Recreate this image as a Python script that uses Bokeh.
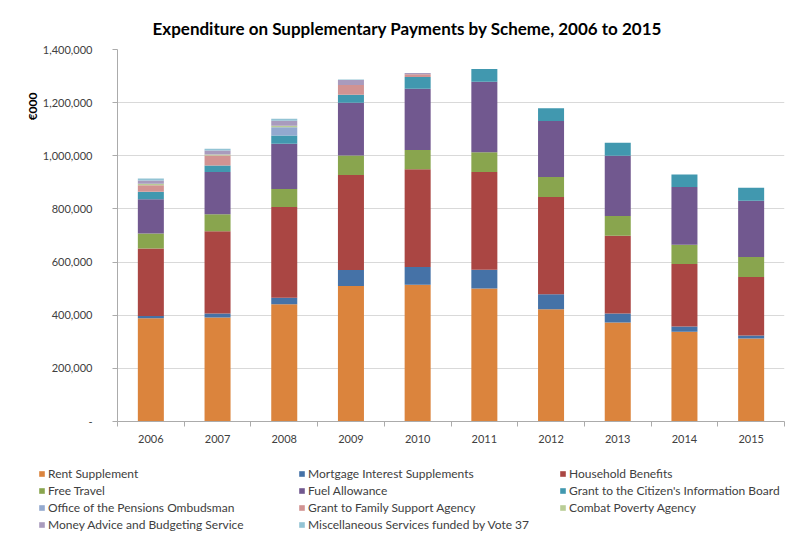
from bokeh.plotting import figure
from bokeh.layouts import column
from bokeh.models import (ColumnDataSource, Range1d, FixedTicker, CustomJSTickFormatter,
                          Legend, LegendItem, Title)
from bokeh.embed import file_html
from bokeh.resources import INLINE

# ---------------- data (EUR 000) ----------------
years = ["2006", "2007", "2008", "2009", "2010", "2011", "2012", "2013", "2014", "2015"]

rent_supplement = [389000, 391000, 441000, 510000, 515000, 501000, 422500, 372500, 337500, 312500]
mortgage_interest = [8000, 15000, 25000, 60000, 66000, 70000, 56500, 33500, 20000, 11250]
household_benefits = [254000, 310000, 341500, 357500, 368000, 367700, 366000, 292750, 235000, 220000]
free_travel = [56500, 64000, 67500, 73500, 73000, 75000, 75000, 75000, 72500, 75000]
fuel_allowance = [128500, 158700, 170000, 199000, 230500, 265000, 211000, 226250, 217500, 212500]
citizens_info = [27700, 25000, 31000, 30000, 44000, 47500, 47750, 48750, 47500, 48750]
pensions_ombudsman = [1000, 0, 31000, 0, 0, 0, 0, 0, 0, 0]
family_support = [24000, 37500, 0, 36000, 10000, 0, 0, 0, 0, 0]
combat_poverty = [6000, 4000, 6000, 0, 0, 0, 0, 0, 0, 0]
money_advice = [12500, 15000, 19000, 19000, 5000, 0, 0, 0, 0, 0]
misc_vote37 = [7500, 6000, 7500, 2000, 0, 0, 0, 0, 0, 0]

series_names = [
    "Rent Supplement", "Mortgage Interest Supplements", "Household Benefits",
    "Free Travel", "Fuel Allowance", "Grant to the Citizen's Information Board",
    "Office of the Pensions Ombudsman", "Grant to Family Support Agency", "Combat Poverty Agency",
    "Money Advice and Budgeting Service", "Miscellaneous Services funded by Vote 37",
]
series_values = [rent_supplement, mortgage_interest, household_benefits, free_travel,
                 fuel_allowance, citizens_info, pensions_ombudsman, family_support,
                 combat_poverty, money_advice, misc_vote37]
series_colors = ["#DB843D", "#4572A7", "#AA4643", "#89A54E", "#71588F", "#4198AF",
                 "#93A9CF", "#D19392", "#B9CD96", "#A99BBD", "#92C3D4"]

y_ticks = list(range(0, 1400001, 200000))

# ---------------- source ----------------
keys = ["s%d" % i for i in range(len(series_names))]
data = {"x": [i + 0.5 for i in range(len(years))]}
for k, v in zip(keys, series_values):
    data[k] = v
src = ColumnDataSource(data)

FONT = "Lato"
TXT = "#404040"
W = 786

p = figure(width=W, height=445,
           x_range=Range1d(0, len(years)), y_range=Range1d(0, 1400000),
           output_backend="svg", toolbar_location=None,
           min_border_left=117, min_border_right=2, min_border_top=49, min_border_bottom=22)
p.frame_align = False
p.outline_line_color = None
p.background_fill_color = "white"
p.border_fill_color = "white"

p.title = Title(text="Expenditure on Supplementary Payments by Scheme,  2006  to 2015",
                align="left", offset=35, standoff=21, text_font=FONT,
                text_font_style="bold", text_font_size="17px", text_color="#000000")

renderers = p.vbar_stack(keys, x="x", width=0.39, color=series_colors, source=src, line_color=None)

p.xgrid.visible = False
p.ygrid.grid_line_color = "#D9D9D9"
p.ygrid.grid_line_width = 1

p.yaxis.ticker = FixedTicker(ticks=y_ticks)
p.yaxis.formatter = CustomJSTickFormatter(code="return tick == 0 ? '-' : Math.round(tick).toLocaleString('en-US');")
p.yaxis.axis_line_color = "#ABABAB"
p.yaxis.major_tick_line_color = "#ABABAB"
p.yaxis.major_tick_out = 5
p.yaxis.major_tick_in = 0
p.yaxis.minor_tick_line_color = None
p.yaxis.major_label_standoff = 20
p.yaxis.major_label_text_font = FONT
p.yaxis.major_label_text_font_size = "11px"
p.yaxis.major_label_text_color = TXT

p.add_layout(Title(text="€000", align="right", offset=43, standoff=0, text_font=FONT,
                   text_font_style="bold", text_font_size="12px", text_color="#000000"), "left")

p.xaxis.ticker = FixedTicker(ticks=data["x"], minor_ticks=list(range(len(years) + 1)))
p.xaxis.formatter = CustomJSTickFormatter(args=dict(years=years),
                                          code="return years[Math.floor(tick)];")
p.xaxis.axis_line_color = "#ABABAB"
p.xaxis.major_tick_line_color = None
p.xaxis.major_tick_out = 0
p.xaxis.major_tick_in = 0
p.xaxis.minor_tick_line_color = "#ABABAB"
p.xaxis.minor_tick_out = 5
p.xaxis.minor_tick_in = 0
p.xaxis.major_label_standoff = 8
p.xaxis.major_label_text_font = FONT
p.xaxis.major_label_text_font_size = "11px"
p.xaxis.major_label_text_color = TXT

# ---------------- legend panel ----------------
LH = 93
n = len(years)
q = figure(width=W, height=LH, x_range=Range1d(0, n), y_range=Range1d(0, 1400000),
           x_axis_type=None, y_axis_type=None, output_backend="svg", toolbar_location=None,
           min_border=0)
q.frame_align = False
q.outline_line_color = None
q.xgrid.visible = False
q.ygrid.visible = False
# same stacked series, not drawn in this panel; only used to key the legend swatches
swatches = q.vbar_stack(keys, x="x", width=0.39, color=series_colors, source=src, line_color=None)
for r in swatches:
    r.visible = False

cols = [[0, 3, 6, 9], [1, 4, 7, 10], [2, 5, 8]]
col_x = [38, 298, 559]
row_h = 17
top_gap = 19.5
for ci, idxs in enumerate(cols):
    items = [LegendItem(label=series_names[i], renderers=[swatches[i]]) for i in idxs]
    bottom = LH - (top_gap + row_h * len(idxs))
    leg = Legend(items=items, location=(col_x[ci], bottom),
                 orientation="vertical", padding=0, margin=0, spacing=0,
                 glyph_width=7, glyph_height=7, label_height=row_h, label_standoff=3,
                 label_text_font=FONT, label_text_font_size="12px", label_text_color=TXT,
                 border_line_color=None, background_fill_alpha=0,
                 inactive_fill_alpha=0)
    q.add_layout(leg, "center")

layout = column(p, q, spacing=0)
open("out.html", "w").write(file_html(layout, INLINE))
